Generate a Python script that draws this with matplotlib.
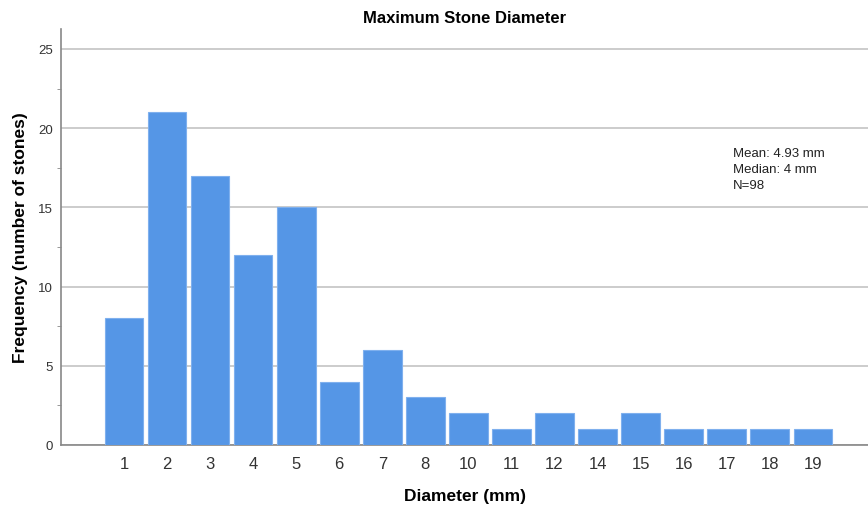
import matplotlib.pyplot as plt
from matplotlib.ticker import MultipleLocator

plt.rcParams["font.family"] = ["Liberation Sans", "DejaVu Sans"]

diam = ["1", "2", "3", "4", "5", "6", "7", "8", "10", "11", "12",
        "14", "15", "16", "17", "18", "19"]
freq = [8, 21, 17, 12, 15, 4, 6, 3, 2, 1, 2, 1, 2, 1, 1, 1, 1]

fig = plt.figure(figsize=(8.68, 5.06), dpi=100)
ax = fig.add_axes([0.0703, 0.1186, 0.9297, 0.8221])

x = list(range(len(diam)))
ax.bar(x, freq, width=0.9, color="#5596E6", edgecolor="#7fb0ee", linewidth=0.8, zorder=3)

ax.set_xlim(-1.46, 17.28)
ax.set_ylim(0, 26.26)
ax.set_xticks(x)
ax.set_xticklabels(diam)
ax.yaxis.set_major_locator(MultipleLocator(5))
ax.yaxis.set_minor_locator(MultipleLocator(2.5))
ax.grid(axis="y", color="#c8c8c8", linewidth=1.3, zorder=0)

for s in ["top", "right"]:
    ax.spines[s].set_visible(False)
for s in ["left", "bottom"]:
    ax.spines[s].set_color("#888888")
    ax.spines[s].set_linewidth(1.2)

ax.tick_params(axis="x", length=0, pad=8, labelsize=12, labelcolor="#333333")
ax.tick_params(axis="y", which="major", length=0, pad=6, labelsize=9.5, labelcolor="#333333")
ax.tick_params(axis="y", which="minor", length=3, color="#888888")

ax.set_title("Maximum Stone Diameter", fontsize=12, fontweight="bold", pad=5)
ax.set_xlabel("Diameter (mm)", fontsize=12.5, fontweight="bold", labelpad=12)
ax.set_ylabel("Frequency (number of stones)", fontsize=12.5, fontweight="bold", labelpad=7)

ax.text(14.14, 18.8, "Mean: 4.93 mm\nMedian: 4 mm\nN=98", fontsize=9.5,
        va="top", ha="left", linespacing=1.45, color="#222222")

fig.savefig("out.png", dpi=100)
